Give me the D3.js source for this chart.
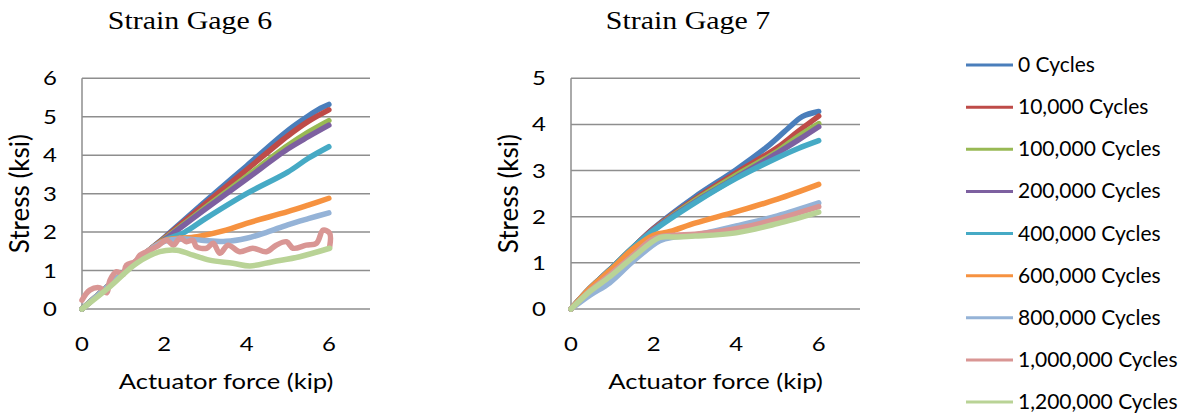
<!DOCTYPE html>
<html>
<head>
<meta charset="utf-8">
<script src="https://cdn.jsdelivr.net/npm/d3@7"></script>
<style>
  html, body { margin: 0; padding: 0; background: #fff; }
  svg { display: block; }
  .tick-label, .axis-title, .legend-label { font-family: Lato, "Open Sans", sans-serif; fill: #000; }
  .chart-title { font-family: "Liberation Serif", "DejaVu Serif", serif; fill: #000; }
</style>
</head>
<body>
<svg id="chart" width="1191" height="416"></svg>
<script>
/* Stress vs. actuator force, two strain gages, nine fatigue stages */

const seriesNames = ['0 Cycles', '10,000 Cycles', '100,000 Cycles', '200,000 Cycles', '400,000 Cycles',
  '600,000 Cycles', '800,000 Cycles', '1,000,000 Cycles', '1,200,000 Cycles'];
const seriesColors = ['#4a7ebb', '#be4b48', '#98b954', '#7d60a0', '#46aac5',
  '#f69240', '#95b3d7', '#d99694', '#b9d396'];

const xTicks = [0, 2, 4, 6];
const yTicks6 = [0, 1, 2, 3, 4, 5, 6];
const yTicks7 = [0, 1, 2, 3, 4, 5];

// ---- Strain Gage 6: [force kip, stress ksi] ----
const g6_0 = [[0,0],[0.5,0.47],[1,0.94],[1.6,1.5],[2,1.86],[3,2.8],[4,3.72],[5,4.64],[5.5,5.02],[5.8,5.22],[6,5.32]];
const g6_10k = [[0,0],[0.5,0.47],[1,0.94],[1.6,1.5],[2,1.84],[3,2.74],[4,3.62],[5,4.5],[5.5,4.88],[6,5.18]];
const g6_100k = [[0,0],[0.5,0.47],[1,0.94],[1.6,1.5],[2,1.82],[3,2.64],[4,3.45],[5,4.25],[5.5,4.6],[6,4.9]];
const g6_200k = [[0,0],[0.5,0.47],[1,0.94],[1.6,1.5],[2,1.8],[3,2.6],[4,3.38],[5,4.16],[5.5,4.48],[6,4.78]];
const g6_400k = [[0,0],[0.5,0.47],[1,0.94],[1.6,1.5],[2,1.78],[2.5,2.0],[3,2.35],[4,3.0],[5,3.56],[5.5,3.92],[6,4.22]];
const g6_600k = [[0,0],[0.5,0.47],[1,0.94],[1.6,1.5],[2,1.78],[2.8,1.88],[3.5,2.05],[4,2.23],[5,2.53],[5.5,2.7],[6,2.88]];
const g6_800k = [[0,0],[0.5,0.47],[1,0.94],[1.6,1.5],[2,1.76],[2.5,1.82],[2.9,1.79],[3.5,1.76],[4,1.84],[4.5,2.0],[5,2.19],[5.5,2.35],[6,2.5]];
const g6_1m = [[0,0.23],[0.19,0.49],[0.44,0.55],[0.6,0.42],[0.68,0.75],[0.84,0.97],[1,0.9],[1.08,1.14],[1.29,1.23],
  [1.41,1.4],[1.57,1.49],[1.81,1.62],[2.06,1.79],[2.22,1.66],[2.38,1.84],[2.54,1.75],[2.7,1.79],[2.78,1.62],
  [3.03,1.58],[3.19,1.71],[3.35,1.45],[3.55,1.66],[3.83,1.49],[4.15,1.58],[4.48,1.49],[4.72,1.66],[4.97,1.75],
  [5.13,1.58],[5.45,1.66],[5.7,1.71],[5.86,2.05],[6.02,1.97],[6.02,1.62]];
const g6_1_2m = [[0,0],[0.68,0.58],[1.33,1.19],[1.89,1.49],[2.3,1.53],[2.7,1.4],[3.1,1.27],[3.67,1.19],[4.08,1.12],
  [4.64,1.23],[5.29,1.36],[6.02,1.58]];

// ---- Strain Gage 7 ----
const g7_0 = [[0,0],[0.46,0.45],[1,0.9],[1.5,1.33],[2,1.75],[3,2.43],[4,3.02],[4.8,3.55],[5.3,3.95],[5.6,4.17],[6,4.28]];
const g7_10k = [[0,0],[0.46,0.45],[1,0.9],[1.5,1.33],[2,1.74],[3,2.38],[4,2.95],[5,3.5],[5.5,3.85],[6,4.18]];
const g7_100k = [[0,0],[0.46,0.45],[1,0.9],[1.5,1.33],[2,1.72],[3,2.35],[4,2.9],[5,3.42],[5.5,3.74],[6,4.02]];
const g7_200k = [[0,0],[0.46,0.45],[1,0.9],[1.5,1.33],[2,1.72],[3,2.32],[4,2.85],[5,3.38],[5.5,3.66],[6,3.95]];
const g7_400k = [[0,0],[0.46,0.45],[1,0.9],[1.5,1.33],[2,1.7],[3,2.3],[4,2.83],[5,3.28],[5.5,3.48],[6,3.65]];
const g7_600k = [[0,0],[0.46,0.45],[1,0.88],[1.5,1.3],[2,1.6],[2.4,1.68],[3,1.86],[4,2.11],[5,2.38],[6,2.7]];
const g7_800k = [[0,0],[0.46,0.3],[0.94,0.57],[1.5,1.03],[2.15,1.48],[2.5,1.56],[3,1.6],[4,1.8],[5,2.02],[6,2.3]];
const g7_1m = [[0,0],[0.46,0.4],[0.94,0.74],[1.5,1.16],[2,1.52],[2.5,1.6],[3,1.62],[4,1.74],[5,1.95],[6,2.22]];
const g7_1_2m = [[0,0],[0.46,0.38],[0.94,0.7],[1.5,1.12],[2.15,1.55],[2.5,1.56],[3,1.58],[4,1.65],[5,1.85],[6,2.1]];

const gage6 = [g6_0, g6_10k, g6_100k, g6_200k, g6_400k, g6_600k, g6_800k, g6_1m, g6_1_2m];
const gage7 = [g7_0, g7_10k, g7_100k, g7_200k, g7_400k, g7_600k, g7_800k, g7_1m, g7_1_2m];

const svg = d3.select('#chart');
const gridColor = '#8e8e8e';
const sansStretch = 1.22;   // the source chart's text is wider than Lato

function drawPanel(opt) {
  const x = d3.scaleLinear().domain([0, 7]).range([opt.left, opt.right]);
  const y = d3.scaleLinear().domain([0, opt.yMax]).range([opt.bottom, opt.top]);
  const g = svg.append('g');

  // horizontal gridlines
  g.selectAll('line.grid')
    .data(opt.yTicks)
    .join('line')
    .attr('x1', opt.left).attr('x2', opt.right)
    .attr('y1', d => y(d)).attr('y2', d => y(d))
    .attr('stroke', gridColor).attr('stroke-width', 1.5);

  // value axis line
  g.append('line')
    .attr('x1', opt.left).attr('x2', opt.left)
    .attr('y1', y(0)).attr('y2', y(opt.yMax))
    .attr('stroke', gridColor).attr('stroke-width', 1.5);

  g.selectAll('text.ytick')
    .data(opt.yTicks)
    .join('text')
    .attr('class', 'tick-label')
    .attr('transform', d => `translate(${opt.left - 25},${y(d) + 7}) scale(1.26,1)`)
    .attr('text-anchor', 'end')
    .attr('font-size', 19)
    .text(d => d);

  g.selectAll('text.xtick')
    .data(xTicks)
    .join('text')
    .attr('class', 'tick-label')
    .attr('transform', d => `translate(${x(d)},351) scale(1.26,1)`)
    .attr('text-anchor', 'middle')
    .attr('font-size', 19)
    .text(d => d);

  g.append('text')
    .attr('class', 'axis-title')
    .attr('transform', `translate(${(opt.left + opt.right) / 2},389) scale(${sansStretch},1)`)
    .attr('text-anchor', 'middle')
    .attr('font-size', 21)
    .text('Actuator force (kip)');

  g.append('text')
    .attr('class', 'axis-title')
    .attr('transform', `translate(${opt.left - 53},${(y(0) + y(opt.yMax)) / 2}) rotate(-90)`)
    .attr('text-anchor', 'middle')
    .attr('font-size', 26)
    .text('Stress (ksi)');

  g.append('text')
    .attr('class', 'chart-title')
    .attr('transform', `translate(${opt.titleX},29) scale(1.15,1)`)
    .attr('text-anchor', 'middle')
    .attr('font-size', 26)
    .text(opt.title);

  const line = d3.line()
    .x(d => x(d[0]))
    .y(d => y(d[1]))
    .curve(d3.curveCatmullRom.alpha(0.5));

  g.selectAll('path.series')
    .data(opt.series)
    .join('path')
    .attr('fill', 'none')
    .attr('stroke', (d, i) => seriesColors[i])
    .attr('stroke-width', 5.5)
    .attr('stroke-linecap', 'round')
    .attr('stroke-linejoin', 'round')
    .attr('d', line);
}

drawPanel({ left: 82, right: 370, top: 78.3, bottom: 309, yMax: 6, yTicks: yTicks6,
  series: gage6, title: 'Strain Gage 6', titleX: 190 });
drawPanel({ left: 571, right: 860, top: 78.3, bottom: 309, yMax: 5, yTicks: yTicks7,
  series: gage7, title: 'Strain Gage 7', titleX: 688 });

// legend
const legend = svg.append('g');
const rowY = d3.scaleLinear().domain([0, seriesNames.length - 1]).range([65, 402]);
const rows = legend.selectAll('g')
  .data(seriesNames)
  .join('g')
  .attr('transform', (d, i) => `translate(0,${rowY(i)})`);
rows.append('line')
  .attr('x1', 966).attr('x2', 1013)
  .attr('stroke', (d, i) => seriesColors[i])
  .attr('stroke-width', 3);
rows.append('text')
  .attr('class', 'legend-label')
  .attr('x', 1018)
  .attr('y', 7)
  .attr('font-size', 21)
  .text(d => d);
</script>
</body>
</html>
